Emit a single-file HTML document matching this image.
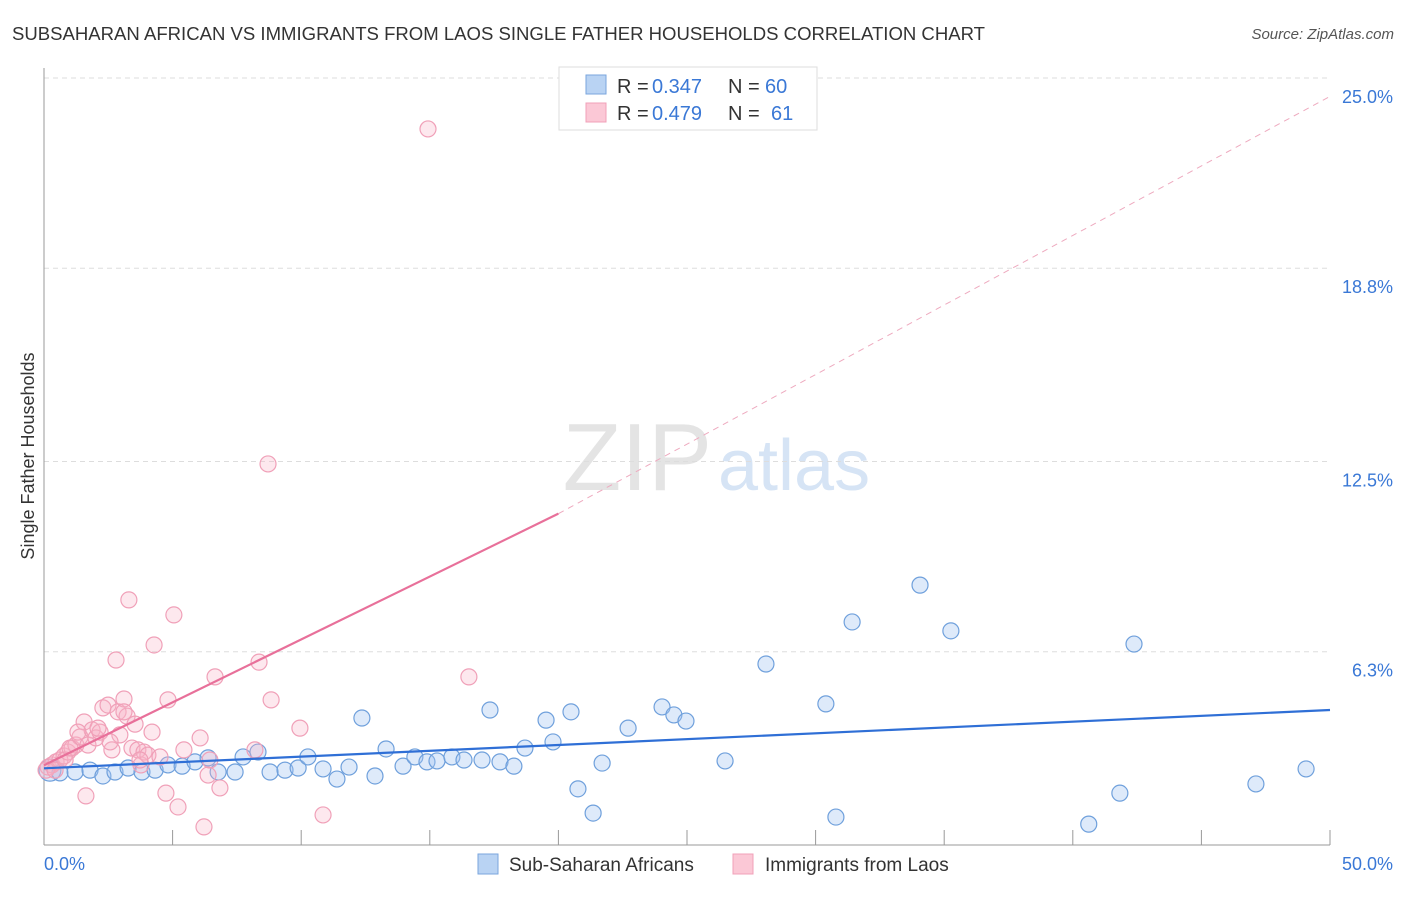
<!DOCTYPE html>
<html><head><meta charset="utf-8"><style>
body{margin:0;background:#fff;font-family:"Liberation Sans",sans-serif}
svg text{font-family:"Liberation Sans",sans-serif}
</style></head><body>
<svg id="c" width="1406" height="892">
<text x="12" y="40" font-size="18" textLength="973" lengthAdjust="spacingAndGlyphs" fill="#333">SUBSAHARAN AFRICAN VS IMMIGRANTS FROM LAOS SINGLE FATHER HOUSEHOLDS CORRELATION CHART</text>
<text x="1394" y="39" font-size="15" fill="#555" font-style="italic" text-anchor="end">Source: ZipAtlas.com</text>
<text x="712" y="490" font-size="96" fill="#e4e4e4" text-anchor="end" font-family="Liberation Serif">ZIP</text>
<text x="718" y="490" font-size="72" fill="#d6e4f5">atlas</text>
<text transform="translate(34,456) rotate(-90)" font-size="18" fill="#333" text-anchor="middle">Single Father Households</text>
<g id="grid"></g><g id="marks"></g>
<g>
<rect x="559" y="67" width="258" height="63" fill="#fff" stroke="#ddd"/>
<rect x="586" y="75" width="20" height="19" fill="#b9d3f3" stroke="#7aa6de"/>
<rect x="586" y="103" width="20" height="19" fill="#fbc8d6" stroke="#f0a0b8"/>
<text x="617" y="93" font-size="20" fill="#333">R =</text>
<text x="652" y="93" font-size="20" fill="#3a78d6">0.347</text>
<text x="728" y="93" font-size="20" fill="#333">N =</text>
<text x="765" y="93" font-size="20" fill="#3a78d6">60</text>
<text x="617" y="120" font-size="20" fill="#333">R =</text>
<text x="652" y="120" font-size="20" fill="#3a78d6">0.479</text>
<text x="728" y="120" font-size="20" fill="#333">N =</text>
<text x="771" y="120" font-size="20" fill="#3a78d6">61</text>
</g>
<g>
<rect x="478" y="854" width="20" height="20" fill="#b9d3f3" stroke="#7aa6de"/>
<text x="509" y="871" font-size="19" fill="#333">Sub-Saharan Africans</text>
<rect x="733" y="854" width="20" height="20" fill="#fbc8d6" stroke="#f0a0b8"/>
<text x="765" y="871" font-size="19" fill="#333">Immigrants from Laos</text>
</g>
</svg>
<script>
const yTicks=[25,18.8,12.5,6.3];
const yTickLabels=["25.0%","18.8%","12.5%","6.3%"];
const xTickLabels=["0.0%","50.0%"];
const blueX=[0.23,0.62,1.21,1.79,2.29,2.76,3.27,3.81,4.32,4.82,5.37,5.87,6.38,6.77,7.43,7.74,8.32,8.79,9.37,9.88,10.26,10.85,11.39,11.86,12.36,12.87,13.30,13.96,14.42,14.89,15.28,15.86,16.33,17.03,17.73,18.27,17.34,18.70,19.52,19.79,20.49,20.76,21.35,21.70,22.71,24.03,24.49,24.96,26.48,28.07,30.40,30.79,31.42,34.06,35.26,40.62,41.83,42.38,47.12,49.07];
const blueY=[2.44,2.35,2.38,2.44,2.25,2.38,2.51,2.38,2.44,2.61,2.57,2.71,2.84,2.38,2.38,2.87,3.03,2.38,2.44,2.51,2.87,2.48,2.15,2.54,4.14,2.25,3.13,2.57,2.87,2.71,2.74,2.87,2.77,2.77,2.71,2.57,4.40,3.16,4.07,3.36,4.34,1.83,1.04,2.67,3.81,4.50,4.24,4.04,2.74,5.90,4.60,0.91,7.27,8.47,6.98,0.68,1.69,6.55,1.99,2.48];
const pinkX=[0.16,0.31,0.47,0.62,0.78,0.93,1.09,1.24,1.40,1.56,1.63,1.71,1.87,2.02,2.18,2.29,2.49,2.64,2.80,2.88,2.95,3.11,3.23,3.30,3.42,3.54,3.65,3.77,3.89,4.04,4.20,4.28,4.51,4.74,4.82,5.05,5.21,5.44,6.07,6.22,6.38,6.65,6.84,8.20,8.36,8.71,8.83,9.95,10.85,14.93,16.52,0.08,0.43,0.82,1.01,1.32,2.10,2.57,3.73,3.11,6.45];
const pinkY=[2.54,2.61,2.71,2.77,2.90,3.03,3.16,3.26,3.52,4.01,1.60,3.26,3.75,3.49,3.68,4.47,4.56,3.10,6.03,4.34,3.59,4.76,4.20,7.99,3.16,3.94,3.10,2.61,3.03,2.93,3.68,6.52,2.87,1.69,4.73,7.50,1.24,3.10,3.49,0.59,2.28,5.48,1.86,3.10,5.96,12.42,4.73,3.81,0.98,23.34,5.48,2.44,2.44,2.77,3.16,3.68,3.81,3.36,2.77,4.34,2.77];
const blueTrend=[[0,2.5],[50,4.4]];
const pinkTrend=[[0,2.6],[20,10.8],[50,24.4]];
const X=v=>44+v*25.72, Y=v=>845-v*30.68;
const NS="http://www.w3.org/2000/svg";
function mk(t,a,p){const e=document.createElementNS(NS,t);for(const k in a)e.setAttribute(k,a[k]);p.appendChild(e);return e;}
const g=document.getElementById('grid'),m=document.getElementById('marks');
yTicks.forEach((t,i)=>{
 const l=mk('line',{x1:44,x2:1330,y1:Y(t),y2:Y(t),stroke:'#ddd','stroke-dasharray':'5,4'},g);
 
 
 const tx=mk('text',{x:1393,y:Y(t)+25,'font-size':18,fill:'#3a78d6','text-anchor':'end'},g);
 tx.textContent=yTickLabels[i];
 
 
});
const ax=mk('line',{x1:44,x2:44,y1:68,y2:845,stroke:'#999'},g);


const bx=mk('line',{x1:44,x2:1330,y1:845,y2:845,stroke:'#999'},g);


for(let i=1;i<=10;i++){const t=mk('line',{x1:X(i*5),x2:X(i*5),y1:830,y2:845,stroke:'#999'},g);
 
 }
[[44,'start',0],[1393,'end',1]].forEach(([x,a,i])=>{const t=mk('text',{x:x,y:870,'font-size':18,fill:'#3a78d6','text-anchor':a},g);t.textContent=xTickLabels[i];
 
 });
blueX.forEach((v,i)=>{const c=mk('circle',{cx:X(v),cy:Y(blueY[i]),r:i==0?11:8,fill:'rgba(160,195,240,0.35)',stroke:'#6fa0dc','stroke-width':1.2},m);
 
 });
pinkX.forEach((v,i)=>{const c=mk('circle',{cx:X(v),cy:Y(pinkY[i]),r:8,fill:'rgba(248,180,200,0.3)',stroke:'#f0a0b8','stroke-width':1.2},m);
 
 });
const bl=mk('line',{x1:X(blueTrend[0][0]),y1:Y(blueTrend[0][1]),x2:X(blueTrend[1][0]),y2:Y(blueTrend[1][1]),stroke:'#2f6fd6','stroke-width':2.2},m);


const pl=mk('line',{x1:X(pinkTrend[0][0]),y1:Y(pinkTrend[0][1]),x2:X(pinkTrend[1][0]),y2:Y(pinkTrend[1][1]),stroke:'#e8709a','stroke-width':2.2},m);


const pd=mk('line',{x1:X(pinkTrend[1][0]),y1:Y(pinkTrend[1][1]),x2:X(pinkTrend[2][0]),y2:Y(pinkTrend[2][1]),stroke:'#eeaabf','stroke-width':1,'stroke-dasharray':'6,5'},m);


</script>
</body></html>
